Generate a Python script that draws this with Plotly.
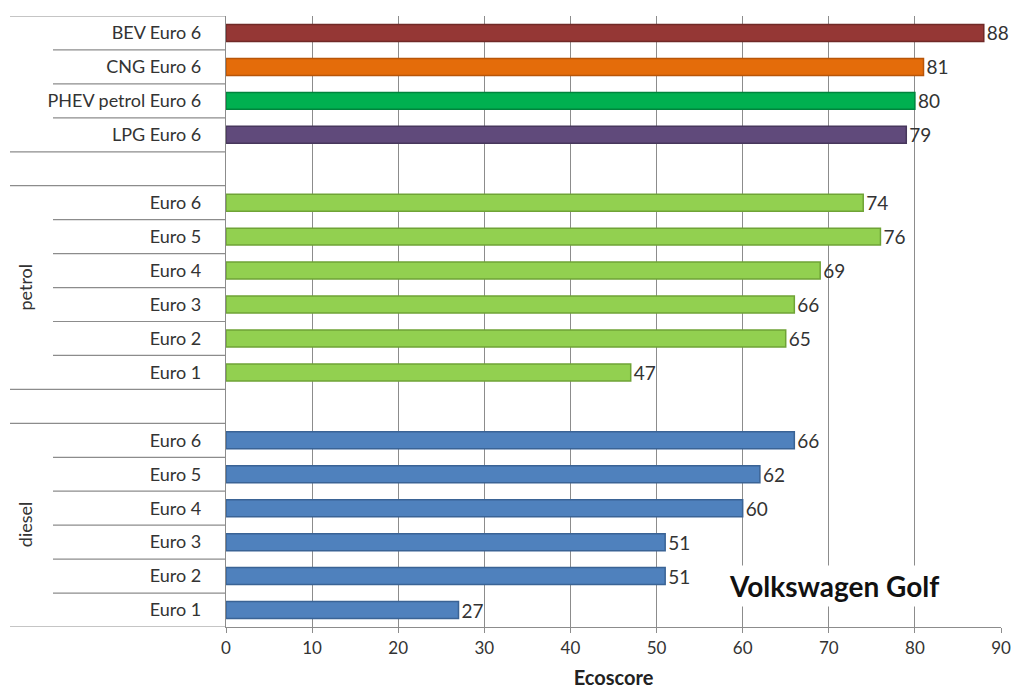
import plotly.graph_objects as go

# ---- data (bottom to top) ----
labels = ["Euro 1", "Euro 2", "Euro 3", "Euro 4", "Euro 5", "Euro 6", "",
          "Euro 1", "Euro 2", "Euro 3", "Euro 4", "Euro 5", "Euro 6", "",
          "LPG Euro 6", "PHEV petrol Euro 6", "CNG Euro 6", "BEV Euro 6"]
values = [27, 51, 51, 60, 62, 66, None,
          47, 65, 66, 69, 76, 74, None,
          79, 80, 81, 88]
colors = ["#4F81BD"] * 6 + ["#4F81BD"] + ["#92D050"] * 6 + ["#92D050"] + \
         ["#604A7B", "#00B050", "#E46C0A", "#953735"]
edge_colors = ["#3A6395"] * 7 + ["#6FA336"] * 7 + ["#47375C", "#00843C", "#B85508", "#702927"]
groups = ["diesel", "petrol"]
group_spans = [(0, 5), (7, 12)]
x_ticks = [0, 10, 20, 30, 40, 50, 60, 70, 80, 90]

positions = list(range(len(labels)))
text_vals = ["" if v is None else str(v) for v in values]

# page body has an 8px margin, so compensate
OFF = 8
L, R, T, B = 226 - OFF, 19 + OFF, 16 - OFF, 62 + OFF
W, H = 1020, 689
pw = W - L - R
FONT = "Lato, Open Sans, sans-serif"

fig = go.Figure()
fig.add_trace(go.Bar(
    y=positions, x=values, orientation="h", width=0.5,
    marker=dict(color=colors, line=dict(color=edge_colors, width=1.5)),
    text=text_vals, textposition="outside", cliponaxis=False,
    constraintext="none",
    textfont=dict(family=FONT, size=19, color="#333333"),
    hoverinfo="skip",
))

shapes = []
def px_to_paper(px):
    return (px - OFF - L) / pw

# category separator lines
boundaries = [i - 0.5 for i in range(len(labels) + 1)]
full_lines = {-0.5, 5.5, 6.5, 12.5, 13.5, 17.5}
for b in boundaries:
    x0 = px_to_paper(10) if b in full_lines else px_to_paper(53)
    shapes.append(dict(type="line", xref="paper", yref="y", x0=x0, x1=0,
                       y0=b, y1=b, line=dict(color="#8C8C8C", width=1.2), layer="above"))

annotations = []
for g, (a, b) in zip(groups, group_spans):
    annotations.append(dict(
        text=g, xref="paper", yref="y", x=px_to_paper(25), y=(a + b) / 2,
        textangle=-90, showarrow=False, xanchor="center", yanchor="middle",
        font=dict(family=FONT, size=18, color="#333333")))

annotations.append(dict(
    text="<b>Volkswagen Golf</b>", xref="x", yref="y", x=70.6, y=0.72,
    showarrow=False, bgcolor="white", borderpad=3,
    font=dict(family=FONT, size=28, color="#111111")))

fig.update_layout(
    width=W, height=H,
    margin=dict(l=L, r=R, t=T, b=B, autoexpand=False),
    paper_bgcolor="white", plot_bgcolor="white",
    showlegend=False,
    shapes=shapes,
    annotations=annotations,
    xaxis=dict(
        range=[0, 90], tickvals=x_ticks, ticktext=[str(t) for t in x_ticks],
        automargin=False,
        showgrid=True, gridcolor="#8C8C8C", gridwidth=1.2,
        zeroline=False, showline=True, linecolor="#8C8C8C", linewidth=1.2,
        ticks="outside", ticklen=5, tickcolor="#8C8C8C",
        tickfont=dict(family=FONT, size=17, color="#333333"),
        title=dict(text="<b>Ecoscore</b>", standoff=14,
                   font=dict(family=FONT, size=20, color="#222222")),
    ),
    yaxis=dict(
        range=[-0.5, 17.5], tickvals=positions, ticktext=labels,
        automargin=False,
        showgrid=False, zeroline=False, showline=True,
        linecolor="#8C8C8C", linewidth=1.2, ticks="",
        ticklabelstandoff=20,
        tickfont=dict(family=FONT, size=18, color="#333333"),
    ),
)

fig.write_html("out.html")
